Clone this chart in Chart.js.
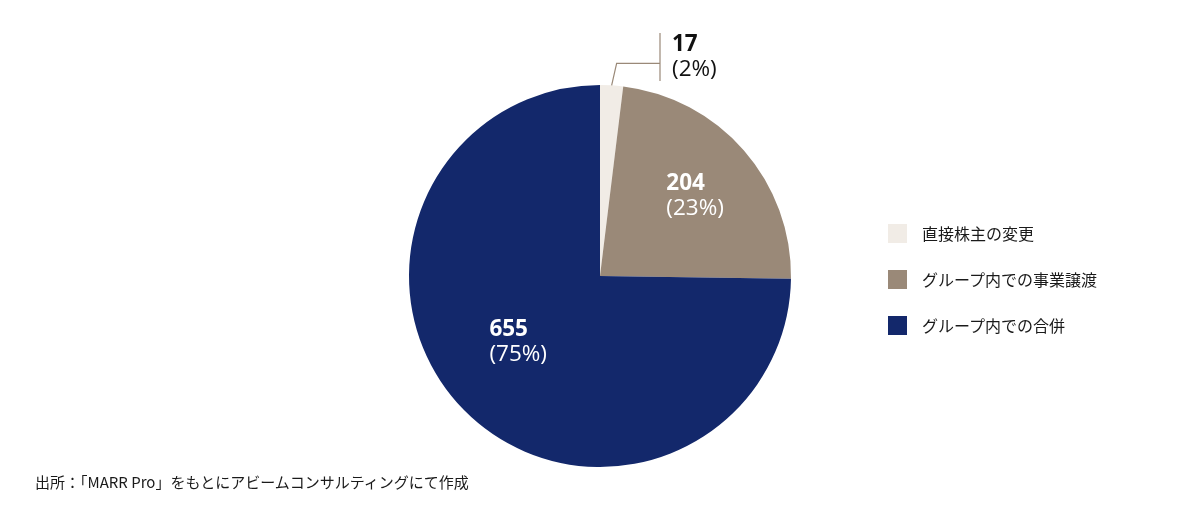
<!DOCTYPE html>
<html lang="ja">
<head>
<meta charset="utf-8">
<script src="https://cdn.jsdelivr.net/npm/chart.js@4"></script>
<style>
  html, body { margin: 0; padding: 0; background: #fff; }
  #wrap { position: relative; width: 1200px; height: 530px; }
  #legend { position: absolute; left: 888px; top: 223px; font-family: "Noto Sans CJK JP", "Noto Sans", sans-serif; font-size: 16px; color: #1a1a1a; }
  .item { display: flex; align-items: center; height: 20px; margin-bottom: 26px; }
  .box { width: 19px; height: 19px; margin-right: 15px; }
  #source { position: absolute; left: 35px; top: 471px; font-family: "Noto Sans CJK JP", sans-serif; font-size: 15px; color: #1a1a1a; }
</style>
</head>
<body>
<div id="wrap">
  <canvas id="pie" width="1200" height="530"></canvas>
  <div id="legend"></div>
  <div id="source">出所：「MARR Pro」をもとにアビームコンサルティングにて作成</div>
</div>
<script>
// ===== データ =====
const categories = ['直接株主の変更', 'グループ内での事業譲渡', 'グループ内での合併'];
const counts = [17, 204, 655];
const percents = ['2%', '23%', '75%'];
const sliceColors = ['#F1ECE6', '#9A8978', '#13286B'];

// ラベル位置の微調整 (px)
const labelShift = [[0, 0], [-20, -17], [-29, -27]];
const numFont = '"Open Sans", "Noto Sans", sans-serif';

// ===== ラベル描画プラグイン =====
const sliceLabels = {
  id: 'sliceLabels',
  afterDatasetsDraw: function(chart) {
    const ctx = chart.ctx;
    const arcs = chart.getDatasetMeta(0).data;
    ctx.save();
    ctx.textBaseline = 'middle';
    ctx.textAlign = 'left';
    arcs.forEach(function(arc, i) {
      const mid = (arc.startAngle + arc.endAngle) / 2;
      if (i === 0) {
        // 小さいスライスは引き出し線
        const px = arc.x + arc.outerRadius * Math.cos(mid);
        const py = arc.y + arc.outerRadius * Math.sin(mid);
        const lx = arc.x + 60;
        const top = arc.y - arc.outerRadius;
        ctx.strokeStyle = '#9A8978';
        ctx.lineWidth = 1.2;
        ctx.beginPath();
        ctx.moveTo(px, py);
        ctx.lineTo(px + 5, py - 22);
        ctx.lineTo(lx, py - 22);
        ctx.moveTo(lx, top - 52);
        ctx.lineTo(lx, top - 4);
        ctx.stroke();
        ctx.fillStyle = '#111';
        ctx.font = 'bold 22.5px ' + numFont;
        ctx.fillText(String(counts[i]), lx + 12, top - 40);
        ctx.font = '22.5px ' + numFont;
        ctx.fillText('(' + percents[i] + ')', lx + 12, top - 15);
        return;
      }
      const r = arc.outerRadius * 0.6;
      const x = arc.x + r * Math.cos(mid) + labelShift[i][0];
      const y = arc.y + r * Math.sin(mid) + labelShift[i][1];
      ctx.fillStyle = '#fff';
      ctx.font = 'bold 22.5px ' + numFont;
      ctx.fillText(String(counts[i]), x, y);
      ctx.font = '22.5px ' + numFont;
      ctx.fillText('(' + percents[i] + ')', x, y + 25);
    });
    ctx.restore();
  }
};

new Chart(document.getElementById('pie'), {
  type: 'pie',
  data: {
    labels: categories,
    datasets: [{
      data: counts,
      backgroundColor: sliceColors,
      borderWidth: 0
    }]
  },
  options: {
    responsive: false,
    animation: false,
    layout: { padding: { top: 85, bottom: 63 } },
    plugins: { legend: { display: false }, tooltip: { enabled: false } }
  },
  plugins: [sliceLabels]
});

// ===== 凡例 =====
const legendEl = document.getElementById('legend');
categories.forEach(function(name, i) {
  legendEl.innerHTML +=
    '<div class="item"><span class="box" style="background:' + sliceColors[i] + '"></span>' + name + '</div>';
});
</script>
</body>
</html>
